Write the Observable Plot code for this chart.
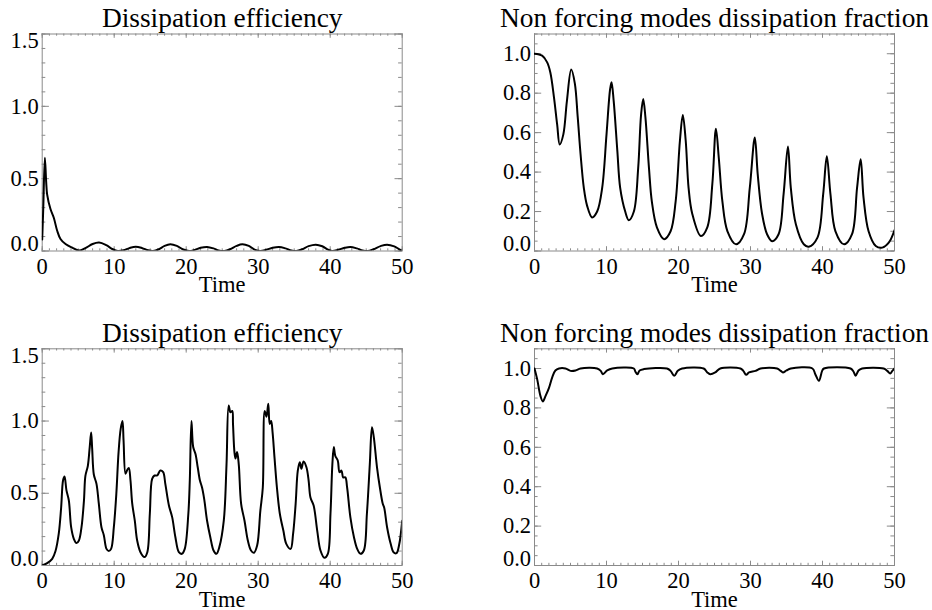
<!DOCTYPE html>
<html><head><meta charset="utf-8">
<script src="https://cdn.jsdelivr.net/npm/d3@7"></script>
<script src="https://cdn.jsdelivr.net/npm/@observablehq/plot@0.6"></script>
<style>
body{margin:0;background:#fff;}
#chart{position:relative;width:932px;height:610px;background:#fff;}
#chart svg{position:absolute;overflow:visible;}
</style></head><body><div id="chart"></div>
<script>
// ---------- data ----------
const titles = ["Dissipation efficiency", "Non forcing modes dissipation fraction"];
const xLabel = "Time";
const xMajorTicks = [0, 10, 20, 30, 40, 50];
const effMajorTicks = [0, 0.5, 1.0, 1.5];
const fracMajorTicks = [0, 0.2, 0.4, 0.6, 0.8, 1.0];

// top-left: dissipation efficiency (run 1)
const eff1Time  = [0, 0.15, 0.37, 0.55, 0.69, 1.15, 1.61, 2.08, 2.54, 3.24, 4.17, 5.1, 6.0, 7.0, 7.9, 8.9, 9.8, 10.5, 11.3, 12.1, 13.0, 13.9, 14.7, 15.4, 16.2, 17.0, 17.8, 18.7, 19.6, 20.4, 21.2, 22.0, 22.9, 23.8, 24.5, 25.3, 26.1, 27.0, 27.8, 28.7, 29.5, 30.3, 31.1, 32.0, 32.9, 33.8, 34.6, 35.3, 36.1, 37.0, 38.0, 38.9, 39.7, 40.3, 41.1, 42.0, 42.8, 43.7, 44.5, 45.2, 46.0, 47.0, 47.9, 48.9, 49.6, 50];
const eff1Value = [0.08, 0.3, 0.645, 0.48, 0.39, 0.29, 0.23, 0.14, 0.083, 0.048, 0.023, 0.003, 0.02, 0.048, 0.058, 0.04, 0.012, 0.0, 0.005, 0.02, 0.03, 0.02, 0.005, 0.0, 0.012, 0.035, 0.046, 0.035, 0.01, 0.0, 0.008, 0.022, 0.028, 0.018, 0.004, 0.0, 0.012, 0.035, 0.046, 0.035, 0.01, 0.0, 0.008, 0.022, 0.028, 0.018, 0.004, 0.0, 0.012, 0.034, 0.044, 0.033, 0.01, 0.0, 0.008, 0.022, 0.028, 0.018, 0.004, 0.0, 0.012, 0.034, 0.044, 0.032, 0.012, 0.002];

// top-right: non forcing modes dissipation fraction (run 1)
const frac1Time  = [0, 1.06, 1.76, 2.2, 2.7, 3.15, 3.5, 4.0, 4.5, 5.1, 5.6, 6.0, 6.4, 6.85, 7.3, 8.0, 8.7, 9.4, 10.0, 10.5, 10.7, 11.0, 11.5, 11.9, 12.6, 13.1, 13.8, 14.4, 14.8, 15.1, 15.4, 15.9, 16.3, 17.0, 18.0, 18.9, 19.6, 20.2, 20.6, 21.0, 21.4, 21.9, 23.1, 24.0, 24.7, 25.2, 25.6, 26.1, 26.8, 28.0, 29.1, 29.9, 30.6, 31.0, 31.6, 32.3, 33.0, 33.9, 34.6, 35.2, 35.6, 36.3, 37.4, 38.1, 39.3, 40.1, 40.6, 41.1, 41.8, 43.0, 44.1, 44.8, 45.3, 45.7, 46.4, 47.4, 48.3, 49.2, 50];
const frac1Value = [1.0, 0.99, 0.956, 0.905, 0.78, 0.64, 0.54, 0.59, 0.76, 0.92, 0.85, 0.68, 0.49, 0.32, 0.23, 0.17, 0.2, 0.32, 0.59, 0.82, 0.855, 0.76, 0.51, 0.32, 0.2, 0.156, 0.2, 0.42, 0.69, 0.77, 0.68, 0.42, 0.25, 0.12, 0.06, 0.1, 0.25, 0.56, 0.69, 0.56, 0.32, 0.19, 0.076, 0.12, 0.34, 0.62, 0.47, 0.25, 0.1, 0.034, 0.085, 0.32, 0.575, 0.39, 0.19, 0.085, 0.05, 0.085, 0.29, 0.53, 0.32, 0.135, 0.034, 0.022, 0.068, 0.29, 0.48, 0.29, 0.1, 0.034, 0.085, 0.32, 0.465, 0.27, 0.1, 0.025, 0.017, 0.042, 0.105];

// bottom-left: dissipation efficiency (run 2)
const eff2Time  = [0, 0.69, 1.39, 1.85, 2.3, 2.63, 2.9, 3.1, 3.37, 3.7, 4.02, 4.39, 4.77, 5.1, 5.46, 5.8, 6.0, 6.34, 6.6, 6.8, 6.94, 7.17, 7.54, 7.86, 8.23, 8.56, 8.93, 9.25, 9.57, 9.95, 10.3, 10.6, 10.9, 11.15, 11.3, 11.57, 11.8, 12.03, 12.26, 12.5, 12.86, 13.19, 13.65, 14.2, 14.6, 14.95, 15.27, 15.6, 15.97, 16.4, 16.8, 17.1, 17.6, 18.05, 18.5, 18.98, 19.4, 19.8, 20.3, 20.5, 20.73, 20.97, 21.3, 21.6, 21.9, 22.2, 22.5, 22.9, 23.35, 23.8, 24.2, 24.6, 25.22, 25.6, 25.9, 26.15, 26.4, 26.5, 26.7, 26.85, 27.07, 27.3, 27.63, 28.1, 28.56, 29.0, 29.4, 29.85, 30.3, 30.64, 30.9, 31.15, 31.4, 31.6, 31.8, 32.0, 32.26, 32.6, 33.0, 33.5, 33.9, 34.5, 34.85, 35.2, 35.5, 35.78, 36.0, 36.3, 36.7, 37.0, 37.26, 37.7, 38.2, 38.65, 39.2, 39.67, 40.04, 40.3, 40.5, 40.7, 41.05, 41.3, 41.57, 41.8, 42.1, 42.35, 42.8, 43.3, 43.75, 44.2, 44.67, 45.1, 45.5, 45.8, 46.05, 46.5, 46.9, 47.3, 47.5, 47.9, 48.4, 48.8, 49.2, 49.6, 50];
const eff2Value = [0.0, 0.016, 0.046, 0.1, 0.22, 0.4, 0.59, 0.616, 0.52, 0.45, 0.265, 0.185, 0.155, 0.173, 0.265, 0.45, 0.62, 0.69, 0.82, 0.92, 0.81, 0.63, 0.565, 0.43, 0.265, 0.21, 0.115, 0.1, 0.115, 0.265, 0.5, 0.78, 0.946, 1.0, 0.865, 0.635, 0.66, 0.675, 0.59, 0.43, 0.31, 0.173, 0.092, 0.058, 0.092, 0.36, 0.6, 0.623, 0.623, 0.657, 0.646, 0.565, 0.415, 0.335, 0.196, 0.092, 0.081, 0.115, 0.36, 0.59, 1.0, 0.82, 0.77, 0.68, 0.59, 0.54, 0.46, 0.31, 0.196, 0.104, 0.081, 0.127, 0.31, 0.7, 1.107, 1.06, 1.07, 0.98, 0.785, 0.74, 0.785, 0.7, 0.427, 0.31, 0.173, 0.104, 0.088, 0.138, 0.38, 0.54, 1.07, 1.03, 1.12, 0.98, 1.0, 0.92, 0.75, 0.54, 0.36, 0.24, 0.15, 0.115, 0.22, 0.427, 0.657, 0.715, 0.67, 0.72, 0.68, 0.59, 0.47, 0.415, 0.24, 0.104, 0.053, 0.08, 0.36, 0.7, 0.82, 0.76, 0.727, 0.646, 0.657, 0.61, 0.61, 0.54, 0.335, 0.196, 0.115, 0.081, 0.104, 0.36, 0.7, 0.957, 0.89, 0.68, 0.54, 0.427, 0.4, 0.265, 0.15, 0.092, 0.085, 0.15, 0.31];

// bottom-right: non forcing modes dissipation fraction (run 2)
const frac2Time  = [0, 0.37, 0.83, 1.16, 1.53, 2.0, 2.45, 2.9, 3.4, 4.3, 5.0, 5.7, 6.4, 8.7, 9.2, 9.5, 10.1, 10.8, 13.8, 14.0, 14.3, 14.6, 15.2, 18.4, 18.9, 19.4, 19.9, 20.5, 23.5, 24.0, 24.4, 25.1, 25.8, 28.6, 29.0, 29.4, 29.8, 30.7, 31.4, 33.7, 34.2, 34.5, 35.0, 35.6, 38.6, 39.0, 39.5, 39.95, 40.2, 43.9, 44.3, 44.6, 45.0, 45.5, 48.5, 49.0, 49.4, 49.7, 50];
const frac2Value = [1.0, 0.946, 0.86, 0.833, 0.86, 0.9, 0.954, 0.99, 1.0, 1.0, 0.988, 0.99, 1.0, 1.0, 0.988, 0.971, 0.99, 1.0, 1.0, 0.985, 0.971, 0.99, 0.997, 1.0, 0.988, 0.963, 0.988, 1.0, 1.0, 0.98, 0.971, 0.98, 1.0, 1.0, 0.988, 0.968, 0.98, 0.988, 1.0, 1.0, 0.988, 0.98, 0.99, 1.0, 1.0, 0.971, 0.9375, 0.988, 1.0, 1.0, 0.985, 0.963, 0.99, 1.0, 1.0, 0.988, 0.975, 0.988, 1.0];

// ---------- drawing ----------
const FONT = "'Liberation Serif', 'Times New Roman', Times, serif";
const FRAME = "#8a8a8a";
const W = 466, H = 305;

function panel({title, time, value, yMax, yMajor, yMinorStep, left, top, mL, mR, mT, mB}) {
  const data = time.map((t, i) => ({t, v: value[i]}));
  const fw = W - mL - mR, fh = H - mT - mB;
  const xMinor = d3.range(0, 50.001, 1);
  const yMinor = d3.range(0, yMax + 1e-9, yMinorStep);
  const fmt = d => d.toFixed(1);
  const midLabels = yMajor.filter(d => d > 0 && d < yMax - 1e-9);
  const topLabels = yMajor.filter(d => Math.abs(d - yMax) < 1e-9);
  const xMajLen = 4.3, xMinLen = 2.2, yMajLen = 7.2, yMinLen = 3.6;
  const axisOpts = {anchor: "left", tickSize: 0, tickPadding: 3.5, tickFormat: fmt, fontSize: 22.5, fill: "black", label: null};
  const svg = Plot.plot({
    width: W, height: H,
    marginLeft: mL, marginRight: mR, marginTop: mT, marginBottom: mB,
    x: {domain: [0, 50], label: null},
    y: {domain: [0, yMax], label: null},
    style: {fontFamily: FONT, background: "transparent", color: "black", overflow: "visible"},
    marks: [
      Plot.frame({stroke: FRAME, strokeWidth: 1}),
      Plot.tickX(xMinor, {x: d => d, stroke: FRAME, insetTop: fh - xMinLen}),
      Plot.tickX(xMinor, {x: d => d, stroke: FRAME, insetBottom: fh - xMinLen}),
      Plot.tickX(xMajorTicks, {x: d => d, stroke: FRAME, insetTop: fh - xMajLen}),
      Plot.tickX(xMajorTicks, {x: d => d, stroke: FRAME, insetBottom: fh - xMajLen}),
      Plot.tickY(yMinor, {y: d => d, stroke: FRAME, insetRight: fw - yMinLen}),
      Plot.tickY(yMinor, {y: d => d, stroke: FRAME, insetLeft: fw - yMinLen}),
      Plot.tickY(yMajor, {y: d => d, stroke: FRAME, insetRight: fw - yMajLen}),
      Plot.tickY(yMajor, {y: d => d, stroke: FRAME, insetLeft: fw - yMajLen}),
      Plot.line(data, {x: "t", y: "v", stroke: "black", strokeWidth: 2, curve: "catmull-rom", clip: true}),
      Plot.axisX(xMajorTicks, {anchor: "bottom", tickSize: 0, tickPadding: 7, fontSize: 22.5, fill: "black", label: null}),
      Plot.axisY(midLabels, axisOpts),
      Plot.axisY([0], {...axisOpts, dy: -7}),
      Plot.axisY(topLabels, {...axisOpts, dy: 7}),
      Plot.text([title], {text: d => d, frameAnchor: "top", lineAnchor: "bottom", dy: -7, fontSize: 27.4, fill: "black"}),
      Plot.text([xLabel], {text: d => d, frameAnchor: "bottom", lineAnchor: "bottom", dy: 41, fontSize: 22.5, fill: "black"})
    ]
  });
  svg.style.left = left + "px";
  svg.style.top = top + "px";
  document.getElementById("chart").appendChild(svg);
}

panel({title: titles[0], time: eff1Time, value: eff1Value, yMax: 1.5, yMajor: effMajorTicks, yMinorStep: 0.1,
       left: 0, top: 0, mL: 41.7, mR: 64.3, mT: 33.5, mB: 54.5});
panel({title: titles[1], time: frac1Time, value: frac1Value, yMax: 1.1, yMajor: fracMajorTicks, yMinorStep: 0.05,
       left: 466, top: 0, mL: 68, mR: 38, mT: 33.5, mB: 54.5});
panel({title: titles[0], time: eff2Time, value: eff2Value, yMax: 1.5, yMajor: effMajorTicks, yMinorStep: 0.1,
       left: 0, top: 305, mL: 41.7, mR: 64.3, mT: 43.3, mB: 45});
panel({title: titles[1], time: frac2Time, value: frac2Value, yMax: 1.1, yMajor: fracMajorTicks, yMinorStep: 0.05,
       left: 466, top: 305, mL: 68, mR: 38, mT: 43.3, mB: 45});
</script></body></html>
